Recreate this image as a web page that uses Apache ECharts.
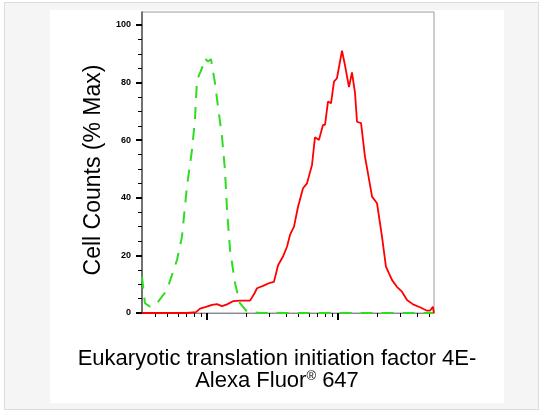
<!DOCTYPE html>
<html><head><meta charset="utf-8">
<script src="https://cdn.jsdelivr.net/npm/echarts@6/dist/echarts.min.js"></script>
<style>
html,body{margin:0;padding:0;background:#fff;}
#frame{position:absolute;left:4px;top:2px;width:533px;height:406px;border:1.5px solid #dcdcdc;background:#f5f5f5;}
#panel{position:absolute;left:50px;top:10px;width:454px;height:393px;background:#fff;}
#c{position:absolute;left:0;top:0;width:544px;height:412px;}
</style>
</head><body>
<div id="frame"></div><div id="panel"></div>
<div id="c"></div>
<script>
// Red (stained) histogram: fluorescence intensity vs % max
const redX = [31.9, 70.3, 82.4, 88.5, 98.2, 109.2, 119.2, 130.2, 142.2, 158, 178.5, 213, 228.4, 241, 267.5, 302.6, 324.5, 348.3, 380, 408, 430.5, 461.5, 495.5, 540.8, 579.8, 633.4, 667, 716, 768, 796, 839, 885, 932, 982, 1073, 1130, 1213, 1279, 1349, 1397, 1500, 1607, 1694, 1820, 1986, 2168, 2323, 2582, 2818, 3080, 3365, 3741, 4230, 4780, 5036, 5305, 5400];
const redY = [0, 0, 0.3, 1.5, 2.1, 2.8, 3.1, 2.4, 3.0, 4.1, 4.3, 4.3, 6.5, 8.6, 9.4, 10.5, 10.8, 16.5, 19.6, 23, 27.1, 30, 36.9, 43.3, 45, 51.4, 61, 60.1, 65.3, 65.3, 73.4, 72.8, 80.3, 81.5, 91.1, 86.1, 78.4, 83.5, 76.4, 66.4, 65.9, 54.3, 48.5, 40.4, 38.1, 26.5, 16.1, 11.5, 9.1, 7.4, 4.5, 3.0, 2.0, 0.8, 0.8, 2.2, 0];
// Green (control) histogram
const greenX = [31.9, 33.6, 36.7, 41.5, 49.5, 59, 64.4, 70.3, 76.8, 80.9, 83.9, 91.6, 96.5, 101.8, 107.3, 115.1, 121.4, 130.2, 137.1, 142.2, 150, 163.7, 178.5, 201.8, 254, 5408];
const greenY = [12.6, 3.4, 2.2, 3.4, 8, 18.4, 26.5, 43.9, 56.6, 67, 80.9, 85, 88.4, 87.3, 88.1, 79.8, 71.6, 61.2, 49.7, 35.8, 21.9, 10.3, 3.4, 0.5, 0, 0];

// Axis extents and ticks
const xMin = 31.9, xMax = 5408;
const yMin = 0, yMax = 104.5;
const yMajorTicks = [0, 20, 40, 60, 80, 100];
const yMinorTicks = [5, 10, 15, 25, 30, 35, 45, 50, 55, 65, 70, 75, 85, 90, 95];
const xMajorTicks = [100, 1000];
const xMinorTicks = [40, 50, 60, 70, 80, 90, 200, 300, 400, 500, 600, 700, 800, 900, 2000, 3000, 4000, 5000];

const yTitle = 'Cell Counts (% Max)';
const xTitleLine1 = 'Eukaryotic translation initiation factor 4E-';
const xTitleLine2a = 'Alexa Fluor';
const xTitleSup = '®';
const xTitleLine2b = ' 647';

const FONT = '"Liberation Sans", Arial, sans-serif';
const chart = echarts.init(document.getElementById('c'), null, {renderer: 'canvas'});
const lg = v => Math.log10(v);

chart.setOption({
  backgroundColor: 'transparent',
  animation: false,
  title: {
    text: '{a|' + xTitleLine1 + '}\n{a|' + xTitleLine2a + '}{s|' + xTitleSup + '}{a|' + xTitleLine2b + '}',
    left: 277, top: 348, textAlign: 'center', padding: 0,
    textStyle: {
      fontWeight: 'normal',
      rich: {
        a: {fontSize: 22, fontWeight: 'normal', fontFamily: FONT, color: '#000', lineHeight: 22},
        s: {fontSize: 13, fontWeight: 'normal', fontFamily: FONT, color: '#000', lineHeight: 22, verticalAlign: 'top', padding: [0, 0, 6, 0]}
      }
    }
  },
  grid: {left: 142, right: 110, top: 12, bottom: 99, show: true, borderColor: '#9a9a9a', borderWidth: 1, backgroundColor: 'transparent', containLabel: false},
  xAxis: [
    {type: 'log', logBase: 10, min: xMin, max: xMax, gridIndex: 0,
     axisLine: {show: true, lineStyle: {color: '#888', width: 1}},
     axisTick: {show: false}, axisLabel: {show: false}, splitLine: {show: false}, minorTick: {show: false}},
    {type: 'value', min: lg(xMin), max: lg(xMax), gridIndex: 0, position: 'bottom',
     axisLine: {show: false}, axisLabel: {show: false}, splitLine: {show: false},
     axisTick: {show: true, inside: false, length: 7, customValues: xMajorTicks.map(lg), lineStyle: {color: '#000', width: 2}}},
    {type: 'value', min: lg(xMin), max: lg(xMax), gridIndex: 0, position: 'bottom',
     axisLine: {show: false}, axisLabel: {show: false}, splitLine: {show: false},
     axisTick: {show: true, inside: false, length: 4, customValues: xMinorTicks.map(lg), lineStyle: {color: '#000', width: 1}}}
  ],
  yAxis: [
    {type: 'value', min: yMin, max: yMax, gridIndex: 0, position: 'left',
     name: yTitle, nameLocation: 'middle', nameGap: 36,
     nameTextStyle: {fontSize: 23, fontFamily: FONT, color: '#000', padding: [0, 15, 0, 0]},
     axisLine: {show: true, lineStyle: {color: '#555', width: 1.5}},
     axisTick: {show: true, length: 6, customValues: yMajorTicks, lineStyle: {color: '#000', width: 2}},
     axisLabel: {show: true, customValues: yMajorTicks, margin: 11, fontSize: 9, fontWeight: 'bold', fontFamily: FONT, color: '#000'},
     splitLine: {show: false}},
    {type: 'value', min: yMin, max: yMax, gridIndex: 0, position: 'left',
     axisLine: {show: false}, axisLabel: {show: false}, splitLine: {show: false},
     axisTick: {show: true, length: 4, customValues: yMinorTicks, lineStyle: {color: '#000', width: 1}}}
  ],
  series: [
    {type: 'line', name: 'Control', xAxisIndex: 0, yAxisIndex: 0, showSymbol: false, symbol: 'none',
     data: greenX.map((x, i) => [x, greenY[i]]),
     lineStyle: {color: '#2fdc1f', width: 2, type: [12, 9]}, z: 3},
    {type: 'line', name: 'eIF4E', xAxisIndex: 0, yAxisIndex: 0, showSymbol: false, symbol: 'none',
     data: redX.map((x, i) => [x, redY[i]]),
     lineStyle: {color: '#ff0000', width: 1.8}, z: 4}
  ]
});
</script>
</body></html>
